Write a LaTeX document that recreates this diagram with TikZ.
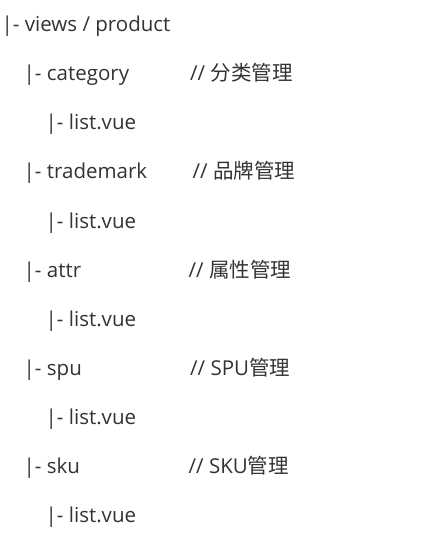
\documentclass[tikz,border=0pt]{standalone}
\usepackage{fontspec}
\setmainfont{Open Sans}
\newfontfamily\cjk{Noto Sans CJK SC}
\definecolor{txt}{HTML}{333333}
\begin{document}
\begin{tikzpicture}[x=1pt,y=1pt,
  t/.style={anchor=base west, inner sep=0pt, text=txt, font=\fontsize{20.5}{24}\selectfont}]
\useasboundingbox (0,0) rectangle (430,-538);
\fill[white] (0,0) rectangle (430,-538);
\node[t] (l1) at (1.5,-31.5) {|- views / product};
\node[t] (l2) at (23.5,-80.7) {|- category};
\node[t] (c2) at (190,-80.7) {// {\cjk 分类管理}};
\node[t] (l3) at (45.5,-129.8) {|- list.vue};
\node[t] (l4) at (23.5,-178.9) {|- trademark};
\node[t] (c4) at (192.5,-178.9) {// {\cjk 品牌管理}};
\node[t] (l5) at (45.5,-228) {|- list.vue};
\node[t] (l6) at (23.5,-277.1) {|- attr};
\node[t] (c6) at (188.5,-277.1) {// {\cjk 属性管理}};
\node[t] (l7) at (45.5,-326.3) {|- list.vue};
\node[t] (l8) at (23.5,-375.4) {|- spu};
\node[t] (c8) at (190,-375.4) {// SPU{\cjk 管理}};
\node[t] (l9) at (45.5,-424.5) {|- list.vue};
\node[t] (l10) at (23.5,-473.7) {|- sku};
\node[t] (c10) at (188.5,-473.7) {// SKU{\cjk 管理}};
\node[t] (l11) at (45.5,-522.8) {|- list.vue};
\end{tikzpicture}
\end{document}
